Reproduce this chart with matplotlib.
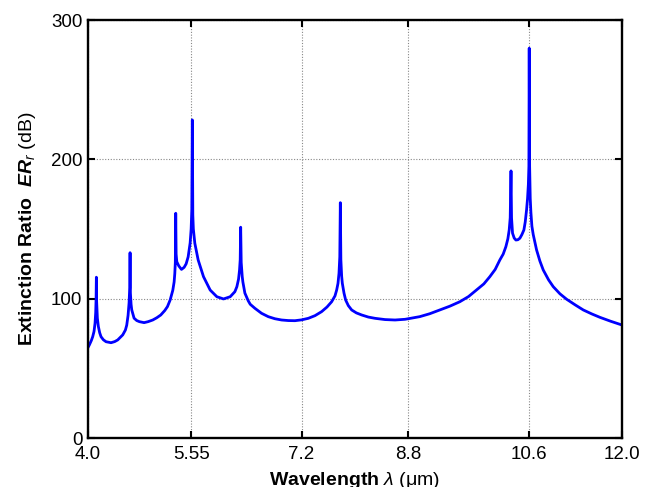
import matplotlib
matplotlib.use("Agg")
import matplotlib.pyplot as plt

plt.rcParams["font.family"] = ["Liberation Sans", "DejaVu Sans"]
plt.rcParams["mathtext.fontset"] = "custom"
plt.rcParams["mathtext.rm"] = "Liberation Sans"
plt.rcParams["mathtext.it"] = "Liberation Sans:italic"
plt.rcParams["mathtext.bf"] = "Liberation Sans:bold"
plt.rcParams["mathtext.bfit"] = "Liberation Sans:bold:italic"

# extinction ratio vs wavelength (um, dB)
wavelength = [
    4.00, 4.02, 4.05, 4.07, 4.09, 4.105, 4.115, 4.121, 4.125, 4.129, 4.14,
    4.155, 4.175, 4.195, 4.23, 4.27, 4.345, 4.40, 4.445, 4.52, 4.56, 4.58,
    4.60, 4.615, 4.625, 4.63, 4.635, 4.645, 4.655, 4.69, 4.73, 4.77, 4.84,
    4.90, 4.97, 5.03, 5.09, 5.15, 5.19, 5.23, 5.27, 5.29, 5.30, 5.308, 5.314,
    5.32, 5.33, 5.36, 5.40, 5.44, 5.47, 5.50, 5.53, 5.545, 5.555, 5.5625,
    5.57, 5.578, 5.60, 5.65, 5.73, 5.83, 5.93, 6.03, 6.13, 6.20, 6.23, 6.255,
    6.27, 6.28, 6.287, 6.295, 6.31, 6.32, 6.35, 6.40, 6.43, 6.50, 6.60, 6.70,
    6.80, 6.90, 7.00, 7.10, 7.20, 7.30, 7.40, 7.50, 7.58, 7.65, 7.70, 7.725,
    7.745, 7.76, 7.772, 7.78, 7.788, 7.80, 7.81, 7.835, 7.86, 7.90, 7.95,
    8.02, 8.10, 8.20, 8.30, 8.45, 8.60, 8.75, 8.97, 9.12, 9.27, 9.42, 9.57,
    9.70, 9.82, 9.93, 10.02, 10.10, 10.17, 10.22, 10.26, 10.29, 10.31, 10.325,
    10.337, 10.345, 10.36, 10.385, 10.41, 10.44, 10.47, 10.50, 10.53, 10.55,
    10.57, 10.585, 10.597, 10.605, 10.61, 10.616, 10.625, 10.635, 10.65,
    10.67, 10.72, 10.77, 10.82, 10.90, 10.97, 11.07, 11.17, 11.30, 11.42,
    11.55, 11.67, 11.83, 12.00,
]
er_db = [
    65.0, 66.8, 70.0, 72.7, 76.5, 82.3, 90.0, 100.0, 115.4, 98.0, 86.0,
    80.0, 75.5, 72.7, 70.5, 69.1, 68.4, 69.2, 70.4, 74.0, 77.5, 81.0,
    88.0, 97.0, 108.0, 133.0, 104.0, 96.0, 92.0, 86.0, 84.3, 83.5, 82.8,
    83.5, 84.7, 86.3, 88.3, 91.5, 94.3, 99.0, 106.0, 112.0, 118.0, 126.0, 161.3,
    132.0, 126.5, 123.5, 121.0, 122.5, 125.0, 130.0, 140.0, 150.0, 164.0, 228.3,
    160.0, 150.0, 139.8, 127.8, 115.8, 106.2, 101.4, 99.8, 101.4, 105.0, 108.6, 114.0,
    120.6, 128.0, 151.3, 126.0, 116.0, 112.0, 104.0, 98.5, 96.0, 93.1, 89.5, 87.1,
    85.6, 84.7, 84.3, 84.2, 84.8, 85.9, 87.8, 90.7, 94.0, 97.8, 102.0, 106.2,
    111.0, 118.2, 130.0, 168.9, 128.0, 116.0, 111.0, 104.0, 99.0, 95.0, 91.9,
    89.8, 88.3, 86.8, 85.9, 85.0, 84.7, 85.2, 87.1, 89.2, 91.9, 94.6, 97.8,
    101.5, 106.2, 110.6, 115.8, 121.0, 127.8, 132.0, 137.3, 143.0, 149.3, 158.0,
    191.7, 158.0, 147.0, 143.5, 142.1, 142.3, 143.4, 146.0, 149.3, 155.0,
    163.7, 172.0, 182.0, 195.0, 279.8, 195.0, 172.0, 162.0, 152.0,
    146.0, 135.0, 127.0, 120.6, 113.5, 108.6, 103.5, 99.6, 95.5, 91.9,
    89.0, 86.6, 83.8, 81.1,
]
x_ticks = [4.0, 5.55, 7.2, 8.8, 10.6, 12.0]
x_ticklabels = ["4.0", "5.55", "7.2", "8.8", "10.6", "12.0"]
y_ticks = [0, 100, 200, 300]

fig = plt.figure(figsize=(6.52, 4.87), dpi=100)
ax = fig.add_axes([0.135, 0.1006, 0.819, 0.8583])

ax.plot(wavelength, er_db, color="#0000ff", linewidth=2.0,
        solid_joinstyle="round")

ax.set_xlim(4.0, 12.0)
ax.set_ylim(0, 300)
ax.set_xticks(x_ticks)
ax.set_xticklabels(x_ticklabels)
ax.set_yticks(y_ticks)

ax.grid(True, linestyle=(0, (1, 1.5)), color="#888888", linewidth=0.8)
ax.set_axisbelow(True)

for s in ax.spines.values():
    s.set_linewidth(1.7)
ax.tick_params(direction="in", length=5, width=1.5, top=True, right=True,
               labelsize=13.5, colors="black")
ax.tick_params(axis="x", pad=5.5)
ax.tick_params(axis="y", pad=4)

ax.set_xlabel(r"$\mathbf{Wavelength}\ \mathit{\lambda}$ (μm)", fontsize=14, labelpad=5)
ax.set_ylabel(r"$\mathbf{Extinction\ Ratio}\ \ \mathbfit{ER}_{\mathit{r}}$ (dB)",
              fontsize=14, labelpad=9)

plt.savefig("out.png", dpi=100)
plt.close()
